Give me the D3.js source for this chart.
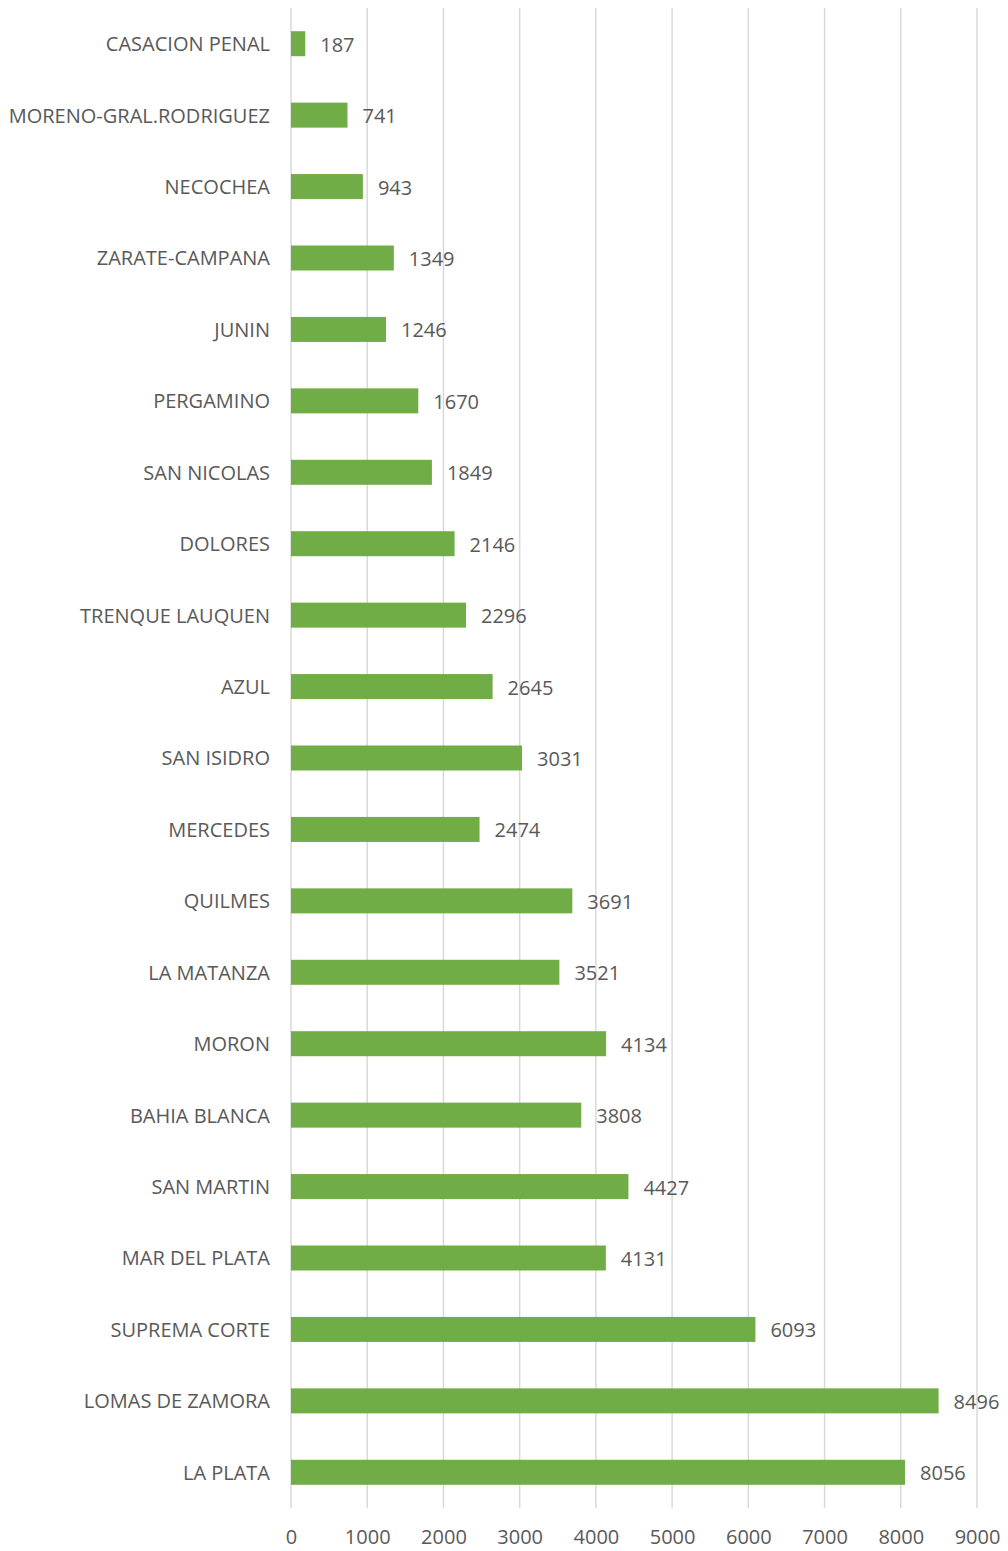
<!DOCTYPE html>
<html>
<head>
<meta charset="utf-8">
<script src="https://cdn.jsdelivr.net/npm/d3@7"></script>
<style>
  body { margin: 0; background: #fff; }
  text { font-family: "Open Sans", sans-serif; fill: #595959; }
</style>
</head>
<body>
<div id="chart"></div>
<script>
const categories = [
    'CASACION PENAL', 'MORENO-GRAL.RODRIGUEZ', 'NECOCHEA', 'ZARATE-CAMPANA', 'JUNIN',
    'PERGAMINO', 'SAN NICOLAS', 'DOLORES', 'TRENQUE LAUQUEN', 'AZUL', 'SAN ISIDRO',
    'MERCEDES', 'QUILMES', 'LA MATANZA', 'MORON', 'BAHIA BLANCA', 'SAN MARTIN',
    'MAR DEL PLATA', 'SUPREMA CORTE', 'LOMAS DE ZAMORA', 'LA PLATA'
];
const values = [
    187, 741, 943, 1349, 1246, 1670, 1849, 2146, 2296, 2645, 3031,
    2474, 3691, 3521, 4134, 3808, 4427, 4131, 6093, 8496, 8056
];
const xTicks = [0, 1000, 2000, 3000, 4000, 5000, 6000, 7000, 8000, 9000];

const width = 1008;
const height = 1551;
const margin = { top: 8, left: 291, right: 31, bottom: 43 };

const svg = d3.select('#chart')
    .append('svg')
    .attr('width', width)
    .attr('height', height);

const x = d3.scaleLinear()
    .domain([0, 9000])
    .range([margin.left, width - margin.right]);

const y = d3.scaleBand()
    .domain(categories)
    .range([margin.top, height - margin.bottom])
    .paddingInner(0.65)
    .paddingOuter(0.325);

// gridlines
svg.append('g')
    .selectAll('line')
    .data(xTicks)
    .join('line')
    .attr('x1', d => x(d))
    .attr('x2', d => x(d))
    .attr('y1', margin.top)
    .attr('y2', height - margin.bottom)
    .attr('stroke', '#d9d9d9')
    .attr('stroke-width', 1.5);

svg.append('g')
    .attr('fill', '#70ad47')
    .selectAll('rect')
    .data(values)
    .join('rect')
    .attr('x', x(0))
    .attr('y', (d, i) => y(categories[i]))
    .attr('width', d => x(d) - x(0))
    .attr('height', y.bandwidth());

// value labels
svg.append('g')
    .attr('font-size', '20px')
    .selectAll('text')
    .data(values)
    .join('text')
    .attr('x', d => x(d) + 15)
    .attr('y', (d, i) => y(categories[i]) + y.bandwidth() / 2 + 1)
    .attr('dy', '0.35em')
    .text(d => d);

// category axis
const yAxis = g => g
    .attr('transform', `translate(${x(0) - 21}, 1)`)
    .call(d3.axisLeft(y).tickSize(0).tickPadding(0))
    .call(g => g.select('.domain').remove());

svg.append('g')
    .call(yAxis)
    .selectAll('text')
    .attr('font-size', '20px')
    .attr('font-family', '"Open Sans", sans-serif')
    .attr('fill', '#595959');

const xAxis = g => g
    .attr('transform', `translate(0, ${height - margin.bottom})`)
    .call(d3.axisBottom(x).tickValues(xTicks).tickSize(0).tickPadding(22).tickFormat(d3.format('d')))
    .call(g => g.select('.domain').remove());

svg.append('g')
    .call(xAxis)
    .selectAll('text')
    .attr('font-size', '20px')
    .attr('font-family', '"Open Sans", sans-serif')
    .attr('fill', '#595959');
</script>
</body>
</html>
